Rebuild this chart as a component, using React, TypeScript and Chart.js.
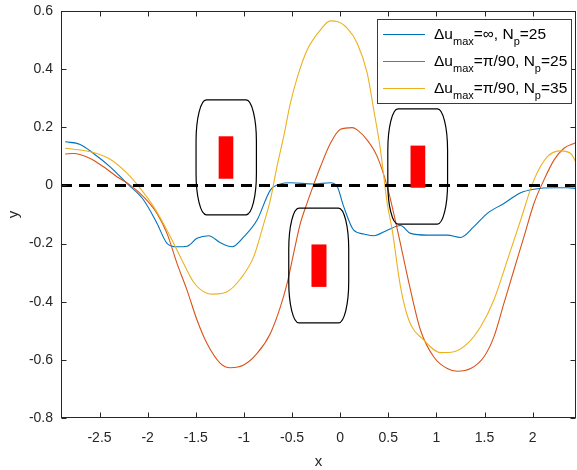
import { useEffect, useRef } from 'react';
import { Chart, registerables } from 'chart.js';
Chart.register(...registerables);

// ---- data ----
const blueX = [-2.857, -2.701, -2.562, -2.389, -2.215, -2.042, -1.903, -1.799, -1.695, -1.591, -1.487, -1.366, -1.245, -1.123, -1.002, -0.863, -0.725, -0.621, -0.517, -0.275, -0.101, -0.031, 0.037, 0.141, 0.245, 0.349, 0.489, 0.627, 0.731, 0.905, 1.113, 1.251, 1.389, 1.529, 1.701, 1.875, 2.013, 2.221, 2.361, 2.45];
const blueY = [0.150, 0.141, 0.110, 0.064, 0.007, -0.050, -0.130, -0.199, -0.211, -0.209, -0.182, -0.173, -0.197, -0.211, -0.177, -0.119, -0.016, 0.005, 0.009, 0.005, 0.009, -0.004, -0.073, -0.154, -0.167, -0.173, -0.154, -0.138, -0.165, -0.171, -0.171, -0.179, -0.142, -0.096, -0.062, -0.025, -0.013, -0.008, -0.008, -0.010];

const redX = [-2.857, -2.770, -2.597, -2.458, -2.319, -2.181, -2.042, -1.903, -1.799, -1.695, -1.591, -1.487, -1.383, -1.245, -1.141, -1.002, -0.863, -0.725, -0.621, -0.551, -0.483, -0.413, -0.343, -0.278, -0.205, -0.101, 0.003, 0.125, 0.177, 0.281, 0.385, 0.489, 0.593, 0.640, 0.731, 0.835, 0.973, 1.113, 1.217, 1.355, 1.493, 1.597, 1.701, 1.805, 1.909, 2.013, 2.117, 2.221, 2.325, 2.447];
const redY = [0.108, 0.110, 0.093, 0.064, 0.030, 0.001, -0.039, -0.096, -0.165, -0.268, -0.360, -0.463, -0.544, -0.612, -0.627, -0.618, -0.578, -0.509, -0.418, -0.337, -0.233, -0.130, -0.060, 0.000, 0.064, 0.145, 0.193, 0.199, 0.191, 0.156, 0.099, -0.004, -0.150, -0.222, -0.360, -0.498, -0.590, -0.630, -0.639, -0.630, -0.590, -0.521, -0.406, -0.291, -0.177, -0.062, 0.019, 0.087, 0.128, 0.147];

const yellowX = [-2.857, -2.701, -2.527, -2.389, -2.215, -2.077, -1.938, -1.799, -1.661, -1.522, -1.383, -1.314, -1.175, -1.037, -0.898, -0.795, -0.725, -0.655, -0.587, -0.517, -0.447, -0.343, -0.205, -0.101, -0.031, 0.073, 0.177, 0.281, 0.349, 0.419, 0.489, 0.541, 0.627, 0.713, 0.869, 1.043, 1.181, 1.321, 1.459, 1.597, 1.737, 1.875, 2.013, 2.153, 2.291, 2.395, 2.45];
const yellowY = [0.128, 0.122, 0.110, 0.090, 0.042, -0.010, -0.073, -0.154, -0.245, -0.333, -0.371, -0.374, -0.366, -0.322, -0.245, -0.133, -0.050, 0.067, 0.168, 0.283, 0.370, 0.466, 0.535, 0.566, 0.564, 0.541, 0.489, 0.386, 0.260, 0.122, -0.062, -0.154, -0.349, -0.463, -0.532, -0.575, -0.572, -0.544, -0.486, -0.394, -0.257, -0.119, 0.019, 0.099, 0.119, 0.110, 0.080];

const zeroX = [-2.9, 2.45];
const zeroY = [0, 0];

const xRange = [-2.9, 2.45];
const yRange = [-0.8, 0.6];
const xTicks = [-2.5, -2, -1.5, -1, -0.5, 0, 0.5, 1, 1.5, 2];
const xTickLabels = ['-2.5', '-2', '-1.5', '-1', '-0.5', '0', '0.5', '1', '1.5', '2'];
const yTicks = [-0.8, -0.6, -0.4, -0.2, 0, 0.2, 0.4, 0.6];
const yTickLabels = ['-0.8', '-0.6', '-0.4', '-0.2', '0', '0.2', '0.4', '0.6'];

const seriesColors = ['#0072BD', '#D95319', '#EDB120'];
// legend label pieces: [text, isSubscript]
const legendLabels: [string, boolean][][] = [
  [['Δu', false], ['max', true], ['=∞, N', false], ['p', true], ['=25', false]],
  [['Δu', false], ['max', true], ['=π/90, N', false], ['p', true], ['=25', false]],
  [['Δu', false], ['max', true], ['=π/90, N', false], ['p', true], ['=35', false]],
];

// rounded outline boxes (data coords)
const boxX0 = [-1.497, -0.534, 0.495];
const boxX1 = [-0.870, 0.089, 1.116];
const boxY0 = [-0.101, -0.473, -0.133];
const boxY1 = [0.294, -0.078, 0.263];
// red bars (data coords)
const barX0 = [-1.262, -0.298, 0.731];
const barX1 = [-1.110, -0.142, 0.884];
const barY0 = [0.023, -0.349, -0.008];
const barY1 = [0.169, -0.203, 0.137];

const FONT = '"Liberation Sans", Arial, Helvetica, sans-serif';
const AX = '#262626';

const toPts = (xs: number[], ys: number[]) => xs.map((x, i) => ({ x, y: ys[i] }));

const annotPlugin = {
  id: 'annot',
  afterDatasetsDraw(chart: any) {
    const { ctx, chartArea: a, scales } = chart;
    const x = scales.x, y = scales.y;
    ctx.save();
    ctx.beginPath();
    ctx.rect(a.left, a.top, a.right - a.left, a.bottom - a.top);
    ctx.clip();
    for (let i = 0; i < boxX0.length; i++) {
      const l = x.getPixelForValue(boxX0[i]);
      const r = x.getPixelForValue(boxX1[i]);
      const t = y.getPixelForValue(boxY1[i]);
      const b = y.getPixelForValue(boxY0[i]);
      const w = r - l, h = b - t;
      const rx = w * 0.17, ry = h * 0.36;
      ctx.beginPath();
      ctx.moveTo(l + rx, t);
      ctx.lineTo(r - rx, t);
      ctx.ellipse(r - rx, t + ry, rx, ry, 0, -Math.PI / 2, 0);
      ctx.lineTo(r, b - ry);
      ctx.ellipse(r - rx, b - ry, rx, ry, 0, 0, Math.PI / 2);
      ctx.lineTo(l + rx, b);
      ctx.ellipse(l + rx, b - ry, rx, ry, 0, Math.PI / 2, Math.PI);
      ctx.lineTo(l, t + ry);
      ctx.ellipse(l + rx, t + ry, rx, ry, 0, Math.PI, Math.PI * 1.5);
      ctx.closePath();
      ctx.strokeStyle = '#000';
      ctx.lineWidth = 1.2;
      ctx.stroke();
    }
    ctx.fillStyle = '#FF0000';
    for (let i = 0; i < barX0.length; i++) {
      const l = x.getPixelForValue(barX0[i]);
      const r = x.getPixelForValue(barX1[i]);
      const t = y.getPixelForValue(barY1[i]);
      const b = y.getPixelForValue(barY0[i]);
      ctx.fillRect(l, t, r - l, b - t);
    }
    ctx.restore();
  },
  afterDraw(chart: any) {
    const { ctx, chartArea: a, scales } = chart;
    const x = scales.x, y = scales.y;
    ctx.save();
    // axes box
    const L = Math.round(a.left) + 0.5, R = Math.round(a.right) - 0.5;
    const T = Math.round(a.top) + 0.5, B = Math.round(a.bottom) - 0.5;
    ctx.strokeStyle = AX;
    ctx.lineWidth = 1;
    ctx.strokeRect(L, T, R - L, B - T);
    ctx.beginPath();
    for (const v of xTicks) {
      const px = Math.round(x.getPixelForValue(v)) + 0.5;
      ctx.moveTo(px, B); ctx.lineTo(px, B - 5);
      ctx.moveTo(px, T); ctx.lineTo(px, T + 5);
    }
    for (const v of yTicks) {
      const py = Math.round(y.getPixelForValue(v)) + 0.5;
      ctx.moveTo(L, py); ctx.lineTo(L + 5, py);
      ctx.moveTo(R, py); ctx.lineTo(R - 5, py);
    }
    ctx.stroke();
    // axis titles
    ctx.fillStyle = AX;
    ctx.font = `15px ${FONT}`;
    ctx.textAlign = 'center';
    ctx.textBaseline = 'alphabetic';
    ctx.fillText('x', (a.left + a.right) / 2, 466);
    ctx.save();
    ctx.translate(18, (a.top + a.bottom) / 2);
    ctx.rotate(-Math.PI / 2);
    ctx.fillText('y', 0, 0);
    ctx.restore();

    // legend
    const lx = 377.5, ly = 19.5, lw = 194, lh = 84;
    ctx.fillStyle = '#fff';
    ctx.fillRect(lx, ly, lw, lh);
    ctx.strokeStyle = '#3a3a3a';
    ctx.lineWidth = 1;
    ctx.strokeRect(lx, ly, lw, lh);
    const rowY = [34, 61, 88];
    for (let i = 0; i < legendLabels.length; i++) {
      const yy = rowY[i];
      ctx.strokeStyle = seriesColors[i];
      ctx.lineWidth = 1;
      ctx.beginPath();
      ctx.moveTo(383, yy + 0.5);
      ctx.lineTo(425, yy + 0.5);
      ctx.stroke();
      let cx = 434;
      const base = yy + 5;
      ctx.fillStyle = '#000';
      ctx.textAlign = 'left';
      for (const [t, sub] of legendLabels[i]) {
        ctx.font = sub ? `11px ${FONT}` : `15.5px ${FONT}`;
        ctx.fillText(t, cx, sub ? base + 6 : base);
        cx += ctx.measureText(t).width;
      }
    }
    ctx.restore();
  },
};

export default function App() {
  const ref = useRef<HTMLCanvasElement | null>(null);
  useEffect(() => {
    document.body.style.margin = '0';
    const canvas = ref.current;
    if (!canvas) return;
    const chart = new Chart(canvas, {
      type: 'line',
      data: {
        datasets: [
          { label: 'zero', data: toPts(zeroX, zeroY), borderColor: '#000', borderWidth: 3, borderDash: [11, 7], pointRadius: 0, order: 0 },
          { label: 's1', data: toPts(blueX, blueY), borderColor: seriesColors[0], borderWidth: 1.1, pointRadius: 0, order: 3, cubicInterpolationMode: 'monotone' },
          { label: 's2', data: toPts(redX, redY), borderColor: seriesColors[1], borderWidth: 1.1, pointRadius: 0, order: 2, cubicInterpolationMode: 'monotone' },
          { label: 's3', data: toPts(yellowX, yellowY), borderColor: seriesColors[2], borderWidth: 1.1, pointRadius: 0, order: 1, cubicInterpolationMode: 'monotone' },
        ],
      },
      options: {
        responsive: false,
        animation: false,
        events: [],
        layout: { padding: { left: 0, right: 1, top: 11, bottom: 0 } },
        plugins: { legend: { display: false }, tooltip: { enabled: false } },
        scales: {
          x: {
            type: 'linear',
            min: xRange[0],
            max: xRange[1],
            grid: { display: false, drawTicks: false, tickLength: 0 },
            border: { display: false },
            afterBuildTicks: (s: any) => { s.ticks = xTicks.map((v) => ({ value: v })); },
            afterFit: (s: any) => { s.height = 52; s.paddingLeft = 0; s.paddingRight = 0; },
            ticks: {
              autoSkip: false,
              maxRotation: 0,
              padding: 12,
              color: AX,
              font: { family: FONT, size: 14 },
              callback: (_v: any, i: number) => xTickLabels[i],
            },
          },
          y: {
            type: 'linear',
            min: yRange[0],
            max: yRange[1],
            grid: { display: false, drawTicks: false, tickLength: 0 },
            border: { display: false },
            afterBuildTicks: (s: any) => { s.ticks = yTicks.map((v) => ({ value: v })); },
            afterFit: (s: any) => { s.width = 61; s.paddingTop = 0; s.paddingBottom = 0; },
            ticks: {
              autoSkip: false,
              padding: 8,
              color: AX,
              font: { family: FONT, size: 14 },
              callback: (_v: any, i: number) => yTickLabels[i],
            },
          },
        },
      },
      plugins: [annotPlugin],
    });
    return () => chart.destroy();
  }, []);
  return <canvas ref={ref} width={577} height={470} style={{ display: 'block' }} />;
}
